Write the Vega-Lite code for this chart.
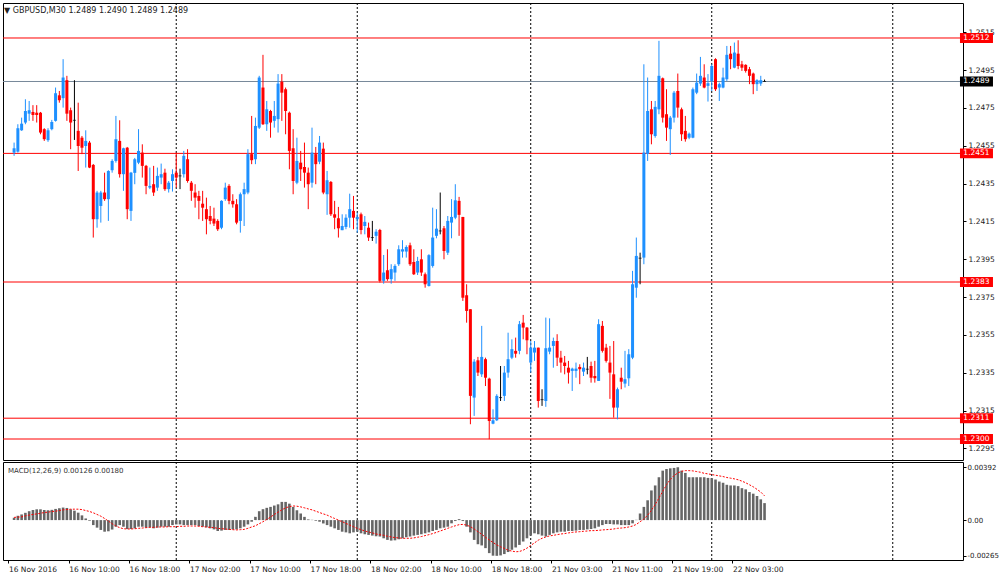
{
"$schema": "https://vega.github.io/schema/vega-lite/v6.json",
"background": "white",
"padding": {"left": 2, "top": 2, "right": 0, "bottom": 0},
"autosize": {"type": "pad"},
"spacing": 2,
"bounds": "flush",
"config": {"view": {"stroke": "#000", "strokeWidth": 1}, "font": "DejaVu Sans", "title": {"font": "DejaVu Sans", "fontWeight": "normal"}},
"datasets": {
"lv": [{"p":1.2512,"t":"1.2512","k":"r"},{"p":1.2489,"t":"1.2489","k":"b"},{"p":1.2451,"t":"1.2451","k":"r"},{"p":1.2383,"t":"1.2383","k":"r"},{"p":1.2311,"t":"1.2311","k":"r"},{"p":1.2300,"t":"1.2300","k":"r"}],
"sep": [{"i":43},{"i":91},{"i":137},{"i":185},{"i":233}],
"k": [
{"i":0,"o":1.24514,"h":1.24567,"l":1.24497,"c":1.24537,"m":0.00017,"s":0.00020},
{"i":1,"o":1.24519,"h":1.24664,"l":1.24514,"c":1.24643,"m":0.00032,"s":0.00022},
{"i":2,"o":1.24632,"h":1.24699,"l":1.24629,"c":1.24667,"m":0.00042,"s":0.00024},
{"i":3,"o":1.24673,"h":1.24796,"l":1.24664,"c":1.24734,"m":0.00054,"s":0.00032},
{"i":4,"o":1.24720,"h":1.24787,"l":1.24682,"c":1.24738,"m":0.00066,"s":0.00037},
{"i":5,"o":1.24729,"h":1.24765,"l":1.24682,"c":1.24713,"m":0.00075,"s":0.00042},
{"i":6,"o":1.24725,"h":1.24765,"l":1.24673,"c":1.24713,"m":0.00080,"s":0.00046},
{"i":7,"o":1.24725,"h":1.24729,"l":1.24611,"c":1.24620,"m":0.00080,"s":0.00051},
{"i":8,"o":1.24638,"h":1.24643,"l":1.24576,"c":1.24585,"m":0.00075,"s":0.00056},
{"i":9,"o":1.24580,"h":1.24643,"l":1.24571,"c":1.24632,"m":0.00073,"s":0.00059},
{"i":10,"o":1.24638,"h":1.24687,"l":1.24632,"c":1.24676,"m":0.00076,"s":0.00064},
{"i":11,"o":1.24682,"h":1.24858,"l":1.24678,"c":1.24828,"m":0.00083,"s":0.00066},
{"i":12,"o":1.24817,"h":1.24840,"l":1.24778,"c":1.24791,"m":0.00088,"s":0.00071},
{"i":13,"o":1.24802,"h":1.25008,"l":1.24752,"c":1.24911,"m":0.00093,"s":0.00076},
{"i":14,"o":1.24897,"h":1.24920,"l":1.24682,"c":1.24720,"m":0.00090,"s":0.00078},
{"i":15,"o":1.24738,"h":1.24752,"l":1.24532,"c":1.24673,"m":0.00080,"s":0.00081},
{"i":16,"o":1.24685,"h":1.24897,"l":1.24581,"c":1.24685,"m":0.00070,"s":0.00081},
{"i":17,"o":1.24629,"h":1.24778,"l":1.24417,"c":1.24549,"m":0.00055,"s":0.00081},
{"i":18,"o":1.24593,"h":1.24602,"l":1.24506,"c":1.24540,"m":0.00035,"s":0.00078},
{"i":19,"o":1.24549,"h":1.24632,"l":1.24435,"c":1.24576,"m":0.00012,"s":0.00071},
{"i":20,"o":1.24567,"h":1.24576,"l":1.24432,"c":1.24435,"m":-0.00005,"s":0.00064},
{"i":21,"o":1.24449,"h":1.24454,"l":1.24065,"c":1.24162,"m":-0.00037,"s":0.00054},
{"i":22,"o":1.24162,"h":1.24312,"l":1.24117,"c":1.24303,"m":-0.00056,"s":0.00042},
{"i":23,"o":1.24232,"h":1.24312,"l":1.24144,"c":1.24303,"m":-0.00073,"s":0.00029},
{"i":24,"o":1.24303,"h":1.24408,"l":1.24259,"c":1.24268,"m":-0.00086,"s":0.00012},
{"i":25,"o":1.24268,"h":1.24421,"l":1.24153,"c":1.24417,"m":-0.00083,"s":-0.00007},
{"i":26,"o":1.24421,"h":1.24479,"l":1.24408,"c":1.24470,"m":-0.00070,"s":-0.00027},
{"i":27,"o":1.24470,"h":1.24708,"l":1.24461,"c":1.24585,"m":-0.00049,"s":-0.00044},
{"i":28,"o":1.24576,"h":1.24685,"l":1.24382,"c":1.24400,"m":-0.00037,"s":-0.00056},
{"i":29,"o":1.24400,"h":1.24540,"l":1.24312,"c":1.24537,"m":-0.00049,"s":-0.00064},
{"i":30,"o":1.24540,"h":1.24544,"l":1.24162,"c":1.24215,"m":-0.00066,"s":-0.00066},
{"i":31,"o":1.24206,"h":1.24412,"l":1.24153,"c":1.24408,"m":-0.00066,"s":-0.00066},
{"i":32,"o":1.24407,"h":1.24486,"l":1.24347,"c":1.24479,"m":-0.00061,"s":-0.00064},
{"i":33,"o":1.24461,"h":1.24638,"l":1.24453,"c":1.24523,"m":-0.00049,"s":-0.00061},
{"i":34,"o":1.24514,"h":1.24558,"l":1.24382,"c":1.24444,"m":-0.00049,"s":-0.00059},
{"i":35,"o":1.24444,"h":1.24449,"l":1.24294,"c":1.24338,"m":-0.00056,"s":-0.00056},
{"i":36,"o":1.24329,"h":1.24435,"l":1.24321,"c":1.24338,"m":-0.00054,"s":-0.00054},
{"i":37,"o":1.24347,"h":1.24444,"l":1.24285,"c":1.24303,"m":-0.00061,"s":-0.00054},
{"i":38,"o":1.24329,"h":1.24435,"l":1.24312,"c":1.24391,"m":-0.00056,"s":-0.00051},
{"i":39,"o":1.24382,"h":1.24456,"l":1.24347,"c":1.24400,"m":-0.00049,"s":-0.00051},
{"i":40,"o":1.24408,"h":1.24429,"l":1.24312,"c":1.24321,"m":-0.00049,"s":-0.00051},
{"i":41,"o":1.24321,"h":1.24364,"l":1.24303,"c":1.24355,"m":-0.00049,"s":-0.00049},
{"i":42,"o":1.24364,"h":1.24426,"l":1.24308,"c":1.24400,"m":-0.00037,"s":-0.00049},
{"i":43,"o":1.24408,"h":1.24514,"l":1.24329,"c":1.24382,"m":-0.00032,"s":-0.00049},
{"i":44,"o":1.24391,"h":1.24429,"l":1.24321,"c":1.24391,"m":-0.00032,"s":-0.00046},
{"i":45,"o":1.24400,"h":1.24523,"l":1.24382,"c":1.24497,"m":-0.00037,"s":-0.00046},
{"i":46,"o":1.24479,"h":1.24532,"l":1.24355,"c":1.24364,"m":-0.00037,"s":-0.00044},
{"i":47,"o":1.24355,"h":1.24364,"l":1.24259,"c":1.24312,"m":-0.00037,"s":-0.00044},
{"i":48,"o":1.24303,"h":1.24347,"l":1.24223,"c":1.24276,"m":-0.00037,"s":-0.00044},
{"i":49,"o":1.24285,"h":1.24312,"l":1.24162,"c":1.24259,"m":-0.00044,"s":-0.00046},
{"i":50,"o":1.24244,"h":1.24312,"l":1.24153,"c":1.24223,"m":-0.00049,"s":-0.00049},
{"i":51,"o":1.24215,"h":1.24276,"l":1.24082,"c":1.24162,"m":-0.00054,"s":-0.00051},
{"i":52,"o":1.24179,"h":1.24232,"l":1.24135,"c":1.24153,"m":-0.00061,"s":-0.00054},
{"i":53,"o":1.24165,"h":1.24223,"l":1.24126,"c":1.24139,"m":-0.00069,"s":-0.00056},
{"i":54,"o":1.24153,"h":1.24162,"l":1.24100,"c":1.24109,"m":-0.00081,"s":-0.00061},
{"i":55,"o":1.24117,"h":1.24262,"l":1.24109,"c":1.24259,"m":-0.00078,"s":-0.00064},
{"i":56,"o":1.24268,"h":1.24355,"l":1.24259,"c":1.24329,"m":-0.00073,"s":-0.00066},
{"i":57,"o":1.24338,"h":1.24347,"l":1.24241,"c":1.24259,"m":-0.00073,"s":-0.00069},
{"i":58,"o":1.24259,"h":1.24294,"l":1.24223,"c":1.24241,"m":-0.00069,"s":-0.00071},
{"i":59,"o":1.24241,"h":1.24268,"l":1.24135,"c":1.24144,"m":-0.00069,"s":-0.00073},
{"i":60,"o":1.24153,"h":1.24303,"l":1.24091,"c":1.24294,"m":-0.00061,"s":-0.00071},
{"i":61,"o":1.24294,"h":1.24355,"l":1.24126,"c":1.24321,"m":-0.00049,"s":-0.00069},
{"i":62,"o":1.24303,"h":1.24532,"l":1.24294,"c":1.24506,"m":-0.00032,"s":-0.00061},
{"i":63,"o":1.24506,"h":1.24708,"l":1.24453,"c":1.24474,"m":-0.00012,"s":-0.00051},
{"i":64,"o":1.24479,"h":1.24699,"l":1.24453,"c":1.24655,"m":0.00024,"s":-0.00042},
{"i":65,"o":1.24646,"h":1.24920,"l":1.24639,"c":1.24911,"m":0.00066,"s":-0.00027},
{"i":66,"o":1.24858,"h":1.25031,"l":1.24660,"c":1.24664,"m":0.00081,"s":-0.00012},
{"i":67,"o":1.24664,"h":1.24787,"l":1.24629,"c":1.24743,"m":0.00091,"s":0.00005},
{"i":68,"o":1.24734,"h":1.24740,"l":1.24593,"c":1.24673,"m":0.00098,"s":0.00022},
{"i":69,"o":1.24682,"h":1.24787,"l":1.24646,"c":1.24708,"m":0.00108,"s":0.00042},
{"i":70,"o":1.24691,"h":1.24929,"l":1.24620,"c":1.24879,"m":0.00117,"s":0.00059},
{"i":71,"o":1.24889,"h":1.24929,"l":1.24682,"c":1.24831,"m":0.00135,"s":0.00076},
{"i":72,"o":1.24849,"h":1.24858,"l":1.24611,"c":1.24734,"m":0.00135,"s":0.00091},
{"i":73,"o":1.24725,"h":1.24731,"l":1.24426,"c":1.24523,"m":0.00122,"s":0.00100},
{"i":74,"o":1.24537,"h":1.24638,"l":1.24294,"c":1.24364,"m":0.00098,"s":0.00105},
{"i":75,"o":1.24355,"h":1.24593,"l":1.24347,"c":1.24470,"m":0.00073,"s":0.00103},
{"i":76,"o":1.24461,"h":1.24523,"l":1.24364,"c":1.24426,"m":0.00049,"s":0.00098},
{"i":77,"o":1.24438,"h":1.24567,"l":1.24329,"c":1.24408,"m":0.00024,"s":0.00091},
{"i":78,"o":1.24408,"h":1.24435,"l":1.24215,"c":1.24347,"m":0.00005,"s":0.00083},
{"i":79,"o":1.24355,"h":1.24646,"l":1.24329,"c":1.24514,"m":0.00002,"s":0.00076},
{"i":80,"o":1.24506,"h":1.24544,"l":1.24347,"c":1.24453,"m":-0.00005,"s":0.00066},
{"i":81,"o":1.24466,"h":1.24602,"l":1.24453,"c":1.24567,"m":-0.00012,"s":0.00056},
{"i":82,"o":1.24535,"h":1.24567,"l":1.24294,"c":1.24303,"m":-0.00025,"s":0.00046},
{"i":83,"o":1.24294,"h":1.24417,"l":1.24185,"c":1.24368,"m":-0.00037,"s":0.00037},
{"i":84,"o":1.24359,"h":1.24364,"l":1.24179,"c":1.24188,"m":-0.00049,"s":0.00024},
{"i":85,"o":1.24188,"h":1.24259,"l":1.24109,"c":1.24170,"m":-0.00061,"s":0.00012},
{"i":86,"o":1.24167,"h":1.24227,"l":1.24065,"c":1.24114,"m":-0.00073,"s":0.00000},
{"i":87,"o":1.24104,"h":1.24188,"l":1.24104,"c":1.24126,"m":-0.00086,"s":-0.00012},
{"i":88,"o":1.24121,"h":1.24188,"l":1.24109,"c":1.24170,"m":-0.00091,"s":-0.00024},
{"i":89,"o":1.24170,"h":1.24297,"l":1.24117,"c":1.24215,"m":-0.00098,"s":-0.00037},
{"i":90,"o":1.24206,"h":1.24285,"l":1.24109,"c":1.24170,"m":-0.00091,"s":-0.00049},
{"i":91,"o":1.24162,"h":1.24197,"l":1.24091,"c":1.24174,"m":-0.00086,"s":-0.00061},
{"i":92,"o":1.24188,"h":1.24197,"l":1.24082,"c":1.24105,"m":-0.00098,"s":-0.00071},
{"i":93,"o":1.24126,"h":1.24179,"l":1.24082,"c":1.24148,"m":-0.00105,"s":-0.00081},
{"i":94,"o":1.24117,"h":1.24144,"l":1.24047,"c":1.24065,"m":-0.00110,"s":-0.00088},
{"i":95,"o":1.24065,"h":1.24153,"l":1.24047,"c":1.24065,"m":-0.00115,"s":-0.00095},
{"i":96,"o":1.24074,"h":1.24109,"l":1.24033,"c":1.24096,"m":-0.00120,"s":-0.00103},
{"i":97,"o":1.24105,"h":1.24111,"l":1.23827,"c":1.23836,"m":-0.00122,"s":-0.00108},
{"i":98,"o":1.23836,"h":1.23973,"l":1.23821,"c":1.23880,"m":-0.00135,"s":-0.00113},
{"i":99,"o":1.23892,"h":1.24003,"l":1.23836,"c":1.23845,"m":-0.00147,"s":-0.00120},
{"i":100,"o":1.23845,"h":1.23924,"l":1.23821,"c":1.23898,"m":-0.00152,"s":-0.00125},
{"i":101,"o":1.23880,"h":1.23924,"l":1.23836,"c":1.23915,"m":-0.00150,"s":-0.00130},
{"i":102,"o":1.23924,"h":1.24024,"l":1.23915,"c":1.24003,"m":-0.00142,"s":-0.00132},
{"i":103,"o":1.23991,"h":1.24051,"l":1.23959,"c":1.24003,"m":-0.00135,"s":-0.00135},
{"i":104,"o":1.23991,"h":1.24024,"l":1.23959,"c":1.24015,"m":-0.00127,"s":-0.00135},
{"i":105,"o":1.24024,"h":1.24038,"l":1.23915,"c":1.23924,"m":-0.00122,"s":-0.00135},
{"i":106,"o":1.23936,"h":1.24003,"l":1.23867,"c":1.23871,"m":-0.00115,"s":-0.00132},
{"i":107,"o":1.23880,"h":1.23963,"l":1.23867,"c":1.23941,"m":-0.00110,"s":-0.00127},
{"i":108,"o":1.23950,"h":1.24003,"l":1.23862,"c":1.23880,"m":-0.00105,"s":-0.00122},
{"i":109,"o":1.23871,"h":1.23880,"l":1.23800,"c":1.23818,"m":-0.00098,"s":-0.00115},
{"i":110,"o":1.23809,"h":1.23977,"l":1.23806,"c":1.23972,"m":-0.00091,"s":-0.00108},
{"i":111,"o":1.23915,"h":1.24223,"l":1.23906,"c":1.24065,"m":-0.00081,"s":-0.00100},
{"i":112,"o":1.24074,"h":1.24215,"l":1.24061,"c":1.24112,"m":-0.00073,"s":-0.00091},
{"i":113,"o":1.24100,"h":1.24303,"l":1.24082,"c":1.24100,"m":-0.00061,"s":-0.00081},
{"i":114,"o":1.24114,"h":1.24126,"l":1.23950,"c":1.23994,"m":-0.00056,"s":-0.00071},
{"i":115,"o":1.23985,"h":1.24179,"l":1.23973,"c":1.24153,"m":-0.00049,"s":-0.00061},
{"i":116,"o":1.24144,"h":1.24268,"l":1.24061,"c":1.24174,"m":-0.00024,"s":-0.00051},
{"i":117,"o":1.24170,"h":1.24347,"l":1.24162,"c":1.24262,"m":-0.00007,"s":-0.00042},
{"i":118,"o":1.24259,"h":1.24280,"l":1.24074,"c":1.24185,"m":0.00007,"s":-0.00034},
{"i":119,"o":1.24174,"h":1.24174,"l":1.23730,"c":1.23747,"m":-0.00007,"s":-0.00032},
{"i":120,"o":1.23760,"h":1.23818,"l":1.23615,"c":1.23677,"m":-0.00049,"s":-0.00037},
{"i":121,"o":1.23686,"h":1.23686,"l":1.23078,"c":1.23228,"m":-0.00091,"s":-0.00049},
{"i":122,"o":1.23219,"h":1.23422,"l":1.23122,"c":1.23409,"m":-0.00147,"s":-0.00066},
{"i":123,"o":1.23416,"h":1.23434,"l":1.23333,"c":1.23351,"m":-0.00179,"s":-0.00086},
{"i":124,"o":1.23342,"h":1.23598,"l":1.23328,"c":1.23434,"m":-0.00188,"s":-0.00105},
{"i":125,"o":1.23422,"h":1.23430,"l":1.23280,"c":1.23324,"m":-0.00208,"s":-0.00127},
{"i":126,"o":1.23319,"h":1.23324,"l":1.22999,"c":1.23095,"m":-0.00245,"s":-0.00147},
{"i":127,"o":1.23081,"h":1.23157,"l":1.23078,"c":1.23099,"m":-0.00264,"s":-0.00166},
{"i":128,"o":1.23099,"h":1.23237,"l":1.23095,"c":1.23228,"m":-0.00265,"s":-0.00184},
{"i":129,"o":1.23219,"h":1.23386,"l":1.23201,"c":1.23219,"m":-0.00262,"s":-0.00198},
{"i":130,"o":1.23228,"h":1.23386,"l":1.23201,"c":1.23351,"m":-0.00252,"s":-0.00210},
{"i":131,"o":1.23351,"h":1.23562,"l":1.23324,"c":1.23422,"m":-0.00237,"s":-0.00223},
{"i":132,"o":1.23430,"h":1.23527,"l":1.23422,"c":1.23475,"m":-0.00220,"s":-0.00230},
{"i":133,"o":1.23466,"h":1.23536,"l":1.23430,"c":1.23451,"m":-0.00203,"s":-0.00235},
{"i":134,"o":1.23466,"h":1.23624,"l":1.23448,"c":1.23607,"m":-0.00184,"s":-0.00233},
{"i":135,"o":1.23615,"h":1.23656,"l":1.23527,"c":1.23589,"m":-0.00159,"s":-0.00223},
{"i":136,"o":1.23589,"h":1.23592,"l":1.23448,"c":1.23522,"m":-0.00135,"s":-0.00208},
{"i":137,"o":1.23404,"h":1.23518,"l":1.23351,"c":1.23483,"m":-0.00115,"s":-0.00188},
{"i":138,"o":1.23457,"h":1.23518,"l":1.23413,"c":1.23483,"m":-0.00098,"s":-0.00169},
{"i":139,"o":1.23483,"h":1.23483,"l":1.23166,"c":1.23201,"m":-0.00105,"s":-0.00149},
{"i":140,"o":1.23208,"h":1.23263,"l":1.23175,"c":1.23208,"m":-0.00115,"s":-0.00135},
{"i":141,"o":1.23201,"h":1.23642,"l":1.23170,"c":1.23480,"m":-0.00122,"s":-0.00125},
{"i":142,"o":1.23462,"h":1.23638,"l":1.23448,"c":1.23483,"m":-0.00110,"s":-0.00117},
{"i":143,"o":1.23492,"h":1.23536,"l":1.23377,"c":1.23518,"m":-0.00098,"s":-0.00113},
{"i":144,"o":1.23518,"h":1.23554,"l":1.23386,"c":1.23430,"m":-0.00091,"s":-0.00108},
{"i":145,"o":1.23430,"h":1.23466,"l":1.23351,"c":1.23404,"m":-0.00086,"s":-0.00103},
{"i":146,"o":1.23404,"h":1.23439,"l":1.23342,"c":1.23386,"m":-0.00086,"s":-0.00100},
{"i":147,"o":1.23377,"h":1.23413,"l":1.23293,"c":1.23351,"m":-0.00081,"s":-0.00095},
{"i":148,"o":1.23360,"h":1.23377,"l":1.23254,"c":1.23372,"m":-0.00081,"s":-0.00091},
{"i":149,"o":1.23360,"h":1.23404,"l":1.23324,"c":1.23372,"m":-0.00078,"s":-0.00088},
{"i":150,"o":1.23381,"h":1.23395,"l":1.23290,"c":1.23369,"m":-0.00073,"s":-0.00086},
{"i":151,"o":1.23356,"h":1.23404,"l":1.23333,"c":1.23377,"m":-0.00073,"s":-0.00083},
{"i":152,"o":1.23369,"h":1.23434,"l":1.23342,"c":1.23369,"m":-0.00069,"s":-0.00081},
{"i":153,"o":1.23386,"h":1.23409,"l":1.23298,"c":1.23324,"m":-0.00066,"s":-0.00078},
{"i":154,"o":1.23333,"h":1.23413,"l":1.23298,"c":1.23321,"m":-0.00061,"s":-0.00078},
{"i":155,"o":1.23307,"h":1.23633,"l":1.23307,"c":1.23607,"m":-0.00049,"s":-0.00076},
{"i":156,"o":1.23598,"h":1.23624,"l":1.23457,"c":1.23466,"m":-0.00037,"s":-0.00073},
{"i":157,"o":1.23483,"h":1.23503,"l":1.23404,"c":1.23413,"m":-0.00029,"s":-0.00071},
{"i":158,"o":1.23404,"h":1.23492,"l":1.23212,"c":1.23351,"m":-0.00029,"s":-0.00069},
{"i":159,"o":1.23342,"h":1.23518,"l":1.23113,"c":1.23166,"m":-0.00032,"s":-0.00066},
{"i":160,"o":1.23166,"h":1.23272,"l":1.23104,"c":1.23263,"m":-0.00032,"s":-0.00061},
{"i":161,"o":1.23324,"h":1.23377,"l":1.23263,"c":1.23303,"m":-0.00037,"s":-0.00059},
{"i":162,"o":1.23293,"h":1.23466,"l":1.23272,"c":1.23316,"m":-0.00037,"s":-0.00056},
{"i":163,"o":1.23321,"h":1.23475,"l":1.23280,"c":1.23448,"m":-0.00037,"s":-0.00051},
{"i":164,"o":1.23430,"h":1.23889,"l":1.23422,"c":1.23818,"m":-0.00024,"s":-0.00044},
{"i":165,"o":1.23800,"h":1.24065,"l":1.23747,"c":1.23968,"m":0.00002,"s":-0.00032},
{"i":166,"o":1.23956,"h":1.23985,"l":1.23818,"c":1.23956,"m":0.00049,"s":-0.00012},
{"i":167,"o":1.23959,"h":1.24981,"l":1.23924,"c":1.24514,"m":0.00098,"s":0.00007},
{"i":168,"o":1.24507,"h":1.24911,"l":1.24470,"c":1.24734,"m":0.00147,"s":0.00037},
{"i":169,"o":1.24743,"h":1.24787,"l":1.24558,"c":1.24611,"m":0.00220,"s":0.00073},
{"i":170,"o":1.24602,"h":1.24787,"l":1.24593,"c":1.24756,"m":0.00257,"s":0.00115},
{"i":171,"o":1.24743,"h":1.25105,"l":1.24717,"c":1.24920,"m":0.00318,"s":0.00164},
{"i":172,"o":1.24907,"h":1.24911,"l":1.24673,"c":1.24699,"m":0.00367,"s":0.00213},
{"i":173,"o":1.24717,"h":1.24849,"l":1.24576,"c":1.24646,"m":0.00379,"s":0.00262},
{"i":174,"o":1.24638,"h":1.24708,"l":1.24502,"c":1.24699,"m":0.00384,"s":0.00301},
{"i":175,"o":1.24699,"h":1.24840,"l":1.24673,"c":1.24831,"m":0.00387,"s":0.00330},
{"i":176,"o":1.24840,"h":1.24932,"l":1.24699,"c":1.24752,"m":0.00392,"s":0.00350},
{"i":177,"o":1.24743,"h":1.24752,"l":1.24576,"c":1.24611,"m":0.00367,"s":0.00362},
{"i":178,"o":1.24629,"h":1.24708,"l":1.24572,"c":1.24585,"m":0.00350,"s":0.00367},
{"i":179,"o":1.24593,"h":1.24620,"l":1.24585,"c":1.24614,"m":0.00318,"s":0.00367},
{"i":180,"o":1.24593,"h":1.24858,"l":1.24590,"c":1.24849,"m":0.00318,"s":0.00365},
{"i":181,"o":1.24831,"h":1.24932,"l":1.24823,"c":1.24884,"m":0.00318,"s":0.00360},
{"i":182,"o":1.24879,"h":1.25020,"l":1.24867,"c":1.24920,"m":0.00318,"s":0.00355},
{"i":183,"o":1.24911,"h":1.24981,"l":1.24854,"c":1.24858,"m":0.00318,"s":0.00347},
{"i":184,"o":1.24867,"h":1.24929,"l":1.24784,"c":1.24881,"m":0.00313,"s":0.00343},
{"i":185,"o":1.24893,"h":1.24981,"l":1.24840,"c":1.24972,"m":0.00311,"s":0.00338},
{"i":186,"o":1.25008,"h":1.25013,"l":1.24840,"c":1.24849,"m":0.00301,"s":0.00333},
{"i":187,"o":1.24858,"h":1.24884,"l":1.24787,"c":1.24876,"m":0.00286,"s":0.00328},
{"i":188,"o":1.24858,"h":1.24963,"l":1.24854,"c":1.24911,"m":0.00277,"s":0.00323},
{"i":189,"o":1.24902,"h":1.25078,"l":1.24893,"c":1.25031,"m":0.00262,"s":0.00316},
{"i":190,"o":1.25037,"h":1.25078,"l":1.24955,"c":1.25008,"m":0.00257,"s":0.00311},
{"i":191,"o":1.24963,"h":1.25096,"l":1.24960,"c":1.25043,"m":0.00257,"s":0.00306},
{"i":192,"o":1.25037,"h":1.25108,"l":1.24955,"c":1.24972,"m":0.00252,"s":0.00299},
{"i":193,"o":1.24981,"h":1.24999,"l":1.24946,"c":1.24963,"m":0.00237,"s":0.00289},
{"i":194,"o":1.24978,"h":1.24981,"l":1.24937,"c":1.24946,"m":0.00228,"s":0.00277},
{"i":195,"o":1.24955,"h":1.24967,"l":1.24876,"c":1.24920,"m":0.00208,"s":0.00262},
{"i":196,"o":1.24932,"h":1.24937,"l":1.24823,"c":1.24876,"m":0.00196,"s":0.00247},
{"i":197,"o":1.24876,"h":1.24902,"l":1.24840,"c":1.24897,"m":0.00179,"s":0.00228},
{"i":198,"o":1.24879,"h":1.24920,"l":1.24867,"c":1.24897,"m":0.00154,"s":0.00208},
{"i":199,"o":1.24890,"h":1.24900,"l":1.24890,"c":1.24890,"m":0.00126,"s":0.00180}
]
},
"vconcat": [
{
"width": 960,
"height": 457,
"title": {"text": "▼ GBPUSD,M30  1.2489 1.2490 1.2489 1.2489", "anchor": "start", "frame": "group", "offset": -12, "fontSize": 8, "color": "#222", "dx": 1},
"layer": [
{
"data": {"name": "sep"},
"mark": {"type": "rule", "color": "#000", "strokeWidth": 1, "strokeDash": [2, 2]},
"encoding": {"x": {"field": "i", "type": "quantitative", "scale": {"domain": [-1.614, 250.3], "nice": false, "zero": false}, "axis": null}}
},
{
"data": {"name": "lv"},
"mark": {"type": "rule", "strokeWidth": 1},
"encoding": {
"y": {"field": "p", "type": "quantitative", "scale": {"domain": [1.22889, 1.25305], "nice": false, "zero": false},
"axis": {"orient": "right", "values": [1.2295, 1.2315, 1.2335, 1.2355, 1.2375, 1.2395, 1.2415, 1.2435, 1.2455, 1.2475, 1.2495, 1.2515], "format": ".4f", "domain": false, "grid": false, "tickSize": 3, "tickColor": "#000", "labelFontSize": 7.5, "labelColor": "#222", "labelPadding": 2, "title": null, "labelFlush": false, "labelOverlap": false, "labelBound": false}},
"stroke": {"field": "k", "type": "nominal", "scale": {"domain": ["r", "b"], "range": ["#FF0000", "#778899"]}, "legend": null}
}
},
{
"data": {"name": "k"},
"mark": {"type": "rule", "strokeWidth": 1},
"encoding": {
"x": {"field": "i", "type": "quantitative", "scale": {"domain": [-1.614, 250.3], "nice": false, "zero": false}, "axis": null},
"y": {"field": "h", "type": "quantitative", "scale": {"domain": [1.22889, 1.25305], "nice": false, "zero": false}},
"y2": {"field": "l"},
"color": {"condition": [{"test": "datum.c > datum.o", "value": "#1E90FF"}, {"test": "datum.c < datum.o", "value": "#FF0000"}], "value": "#000000"}
}
},
{
"data": {"name": "k"},
"mark": {"type": "bar", "orient": "vertical", "width": 3},
"encoding": {
"x": {"field": "i", "type": "quantitative", "scale": {"domain": [-1.614, 250.3], "nice": false, "zero": false}, "axis": null},
"y": {"field": "o", "type": "quantitative", "scale": {"domain": [1.22889, 1.25305], "nice": false, "zero": false}},
"y2": {"field": "c"},
"color": {"condition": [{"test": "datum.c > datum.o", "value": "#1E90FF"}, {"test": "datum.c < datum.o", "value": "#FF0000"}], "value": "#000000"}
}
},
{
"data": {"name": "k"},
"transform": [{"filter": "datum.o == datum.c"}],
"mark": {"type": "tick", "orient": "horizontal", "size": 3, "thickness": 1, "color": "#000"},
"encoding": {
"x": {"field": "i", "type": "quantitative", "scale": {"domain": [-1.614, 250.3], "nice": false, "zero": false}, "axis": null},
"y": {"field": "c", "type": "quantitative", "scale": {"domain": [1.22889, 1.25305], "nice": false, "zero": false}}
}
},
{
"data": {"name": "lv"},
"mark": {"type": "point", "filled": true, "shape": "M-1,-0.3H1V0.3H-1Z", "size": 1089, "opacity": 1, "strokeWidth": 0},
"encoding": {
"x": {"datum": 255.2, "type": "quantitative", "scale": {"domain": [-1.614, 250.3], "nice": false, "zero": false}, "axis": null},
"y": {"field": "p", "type": "quantitative", "scale": {"domain": [1.22889, 1.25305], "nice": false, "zero": false}},
"fill": {"field": "k", "type": "nominal", "scale": {"domain": ["r", "b"], "range": ["#FF0000", "#000000"]}, "legend": null}
}
},
{
"data": {"name": "lv"},
"mark": {"type": "text", "fill": "#FFFFFF", "fontSize": 7.5, "align": "center", "baseline": "middle"},
"encoding": {
"x": {"datum": 255.2, "type": "quantitative", "scale": {"domain": [-1.614, 250.3], "nice": false, "zero": false}, "axis": null},
"y": {"field": "p", "type": "quantitative", "scale": {"domain": [1.22889, 1.25305], "nice": false, "zero": false}},
"text": {"field": "t"}
}
}
]
},
{
"width": 960,
"height": 98,
"title": {"text": "MACD(12,26,9) 0.00126 0.00180", "anchor": "start", "frame": "group", "offset": -12, "fontSize": 7, "color": "#333", "dx": 5},
"layer": [
{
"data": {"name": "sep"},
"mark": {"type": "rule", "color": "#000", "strokeWidth": 1, "strokeDash": [2, 2]},
"encoding": {"x": {"field": "i", "type": "quantitative", "scale": {"domain": [-1.614, 250.3], "nice": false, "zero": false},
"axis": {"values": [-1.5, 14.5, 30.5, 46.5, 62.5, 78.5, 94.5, 110.5, 126.5, 142.5, 158.5, 174.5, 190.5], "labelExpr": "['16 Nov 2016','16 Nov 10:00','16 Nov 18:00','17 Nov 02:00','17 Nov 10:00','17 Nov 18:00','18 Nov 02:00','18 Nov 10:00','18 Nov 18:00','21 Nov 03:00','21 Nov 11:00','21 Nov 19:00','22 Nov 03:00'][round((datum.value + 1.5) / 16)]", "labelAlign": "left", "labelFontSize": 7.5, "labelColor": "#222", "tickSize": 3, "tickColor": "#000", "domain": false, "grid": false, "title": null, "labelPadding": 2, "labelFlush": false, "labelOverlap": false, "labelBound": false}}}
},
{
"data": {"name": "k"},
"mark": {"type": "bar", "orient": "vertical", "width": 2.6, "color": "#666666"},
"encoding": {
"x": {"field": "i", "type": "quantitative", "scale": {"domain": [-1.614, 250.3], "nice": false, "zero": false}},
"y": {"field": "m", "type": "quantitative", "scale": {"domain": [-0.00296, 0.00431], "nice": false, "zero": false},
"axis": {"orient": "right", "values": [-0.00265, 0, 0.00392], "labelExpr": "datum.value == 0 ? '0.00' : (datum.value > 0 ? '0.00392' : '-0.00265')", "domain": false, "grid": false, "tickSize": 3, "tickColor": "#000", "labelFontSize": 7, "labelColor": "#222", "labelPadding": 1, "title": null, "labelFlush": false, "labelOverlap": false, "labelBound": false}},
"y2": {"datum": 0}
}
},
{
"data": {"name": "k"},
"mark": {"type": "line", "color": "#FF0000", "strokeWidth": 1, "strokeDash": [2, 1.5]},
"encoding": {
"x": {"field": "i", "type": "quantitative", "scale": {"domain": [-1.614, 250.3], "nice": false, "zero": false}},
"y": {"field": "s", "type": "quantitative", "scale": {"domain": [-0.00296, 0.00431], "nice": false, "zero": false}}
}
}
]
}
]
}
